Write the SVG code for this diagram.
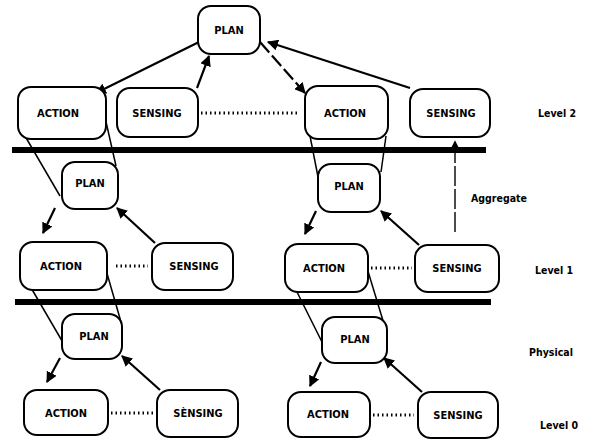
<svg xmlns="http://www.w3.org/2000/svg" width="594" height="440" viewBox="0 0 594 440">
<defs>
<marker id="ah" viewBox="0 0 10 10" refX="9" refY="5" markerWidth="5" markerHeight="5" orient="auto" markerUnits="strokeWidth">
<path d="M0,0 L10,5 L0,10 z" fill="#000"/>
</marker>
<marker id="ahs" viewBox="0 0 10 10" refX="9" refY="5" markerWidth="6" markerHeight="6" orient="auto" markerUnits="strokeWidth">
<path d="M0,0 L10,5 L0,10 z" fill="#000"/>
</marker>
</defs>
<style>
.box{fill:#fff;stroke:#000;stroke-width:2}
.t{font-family:"DejaVu Sans Condensed","DejaVu Sans",sans-serif;font-weight:bold;font-size:11px;text-anchor:middle;dominant-baseline:central;fill:#000}
.lbl{font-family:"DejaVu Sans Condensed","DejaVu Sans",sans-serif;font-weight:bold;font-size:10.5px;dominant-baseline:central;fill:#000}
.arr{stroke:#000;stroke-width:2.2;fill:none;marker-end:url(#ah)}
.ln{stroke:#000;stroke-width:1.5;fill:none}
.dot{stroke:#000;stroke-width:3;stroke-dasharray:1.5 3;fill:none}
.bar{stroke:#000;stroke-width:6}
</style>
<rect width="594" height="440" fill="#fff"/>

<g id="connectors">
<!-- funnel lines -->
<line class="ln" x1="25" y1="136" x2="60" y2="196"/>
<line class="ln" x1="102" y1="104" x2="116" y2="166"/>
<line class="ln" x1="310" y1="136" x2="319" y2="182"/>
<line class="ln" x1="386" y1="136" x2="381" y2="172"/>
<line class="ln" x1="30" y1="286" x2="65" y2="346"/>
<line class="ln" x1="102" y1="256" x2="121" y2="322"/>
<line class="ln" x1="294" y1="286" x2="324" y2="346"/>
<line class="ln" x1="364" y1="258" x2="384" y2="324"/>
<!-- bars -->
<line class="bar" x1="12" y1="150" x2="486" y2="150"/>
<line class="bar" x1="15" y1="302" x2="491" y2="302"/>
<!-- level 2 arrows -->
<line class="arr" x1="199" y1="42" x2="96" y2="93"/>
<line class="arr" x1="197" y1="88" x2="209" y2="56"/>
<line class="arr" x1="260" y1="42" x2="305" y2="93" stroke-dasharray="14 4"/>
<line class="arr" x1="410" y1="88" x2="268" y2="42"/>
<!-- dotted links -->
<line class="dot" x1="201" y1="113" x2="300" y2="113"/>
<line class="dot" x1="116" y1="266" x2="148" y2="266"/>
<line class="dot" x1="371" y1="268" x2="412" y2="268"/>
<line class="dot" x1="111" y1="413" x2="154" y2="413"/>
<line class="dot" x1="373" y1="415" x2="414" y2="415"/>
<!-- level 1 arrows -->
<line class="arr" x1="55" y1="208" x2="43" y2="233"/>
<line class="arr" x1="155" y1="243" x2="117" y2="208"/>
<line class="arr" x1="316" y1="211" x2="305" y2="234"/>
<line class="arr" x1="419" y1="245" x2="381" y2="211"/>
<!-- level 0 arrows -->
<line class="arr" x1="60" y1="358" x2="47" y2="382"/>
<line class="arr" x1="160" y1="390" x2="122" y2="356"/>
<line class="arr" x1="321" y1="362" x2="310" y2="386"/>
<line class="arr" x1="422" y1="392" x2="384" y2="358"/>
<!-- aggregate -->
<line x1="455" y1="232" x2="455" y2="141" stroke="#000" stroke-width="1.4" stroke-dasharray="20 3" marker-end="url(#ahs)"/>
</g>

<g id="plan-top"><rect class="box" x="198" y="6" width="62" height="48" rx="13"/><text class="t" x="229" y="30">PLAN</text></g>
<g id="action-2a"><rect class="box" x="18" y="87" width="88" height="52" rx="13"/><text class="t" x="58" y="113">ACTION</text></g>
<g id="sensing-2a"><rect class="box" x="117" y="88" width="81" height="49" rx="13"/><text class="t" x="157" y="113">SENSING</text></g>
<g id="action-2b"><rect class="box" x="305" y="86" width="83" height="53" rx="13"/><text class="t" x="345" y="113">ACTION</text></g>
<g id="sensing-2b"><rect class="box" x="410" y="89" width="80" height="48" rx="13"/><text class="t" x="451" y="113">SENSING</text></g>

<g id="plan-1a"><rect class="box" x="62" y="162" width="56" height="47" rx="13"/><text class="t" x="90" y="183">PLAN</text></g>
<g id="plan-1b"><rect class="box" x="318" y="164" width="62" height="48" rx="13"/><text class="t" x="349" y="186">PLAN</text></g>
<g id="action-1a"><rect class="box" x="20" y="242" width="87" height="48" rx="13"/><text class="t" x="61" y="266">ACTION</text></g>
<g id="sensing-1a"><rect class="box" x="152" y="243" width="81" height="47" rx="13"/><text class="t" x="194" y="266">SENSING</text></g>
<g id="action-1b"><rect class="box" x="285" y="244" width="83" height="48" rx="13"/><text class="t" x="324" y="268">ACTION</text></g>
<g id="sensing-1b"><rect class="box" x="415" y="245" width="84" height="47" rx="13"/><text class="t" x="457" y="268">SENSING</text></g>

<g id="plan-0a"><rect class="box" x="62" y="314" width="60" height="45" rx="13"/><text class="t" x="94" y="336">PLAN</text></g>
<g id="plan-0b"><rect class="box" x="322" y="317" width="65" height="46" rx="13"/><text class="t" x="355" y="339">PLAN</text></g>
<g id="action-0a"><rect class="box" x="24" y="390" width="84" height="45" rx="13"/><text class="t" x="66" y="413">ACTION</text></g>
<g id="sensing-0a"><rect class="box" x="157" y="390" width="81" height="47" rx="13"/><text class="t" x="198" y="413">SÈNSING</text></g>
<g id="action-0b"><rect class="box" x="288" y="392" width="82" height="45" rx="13"/><text class="t" x="328" y="414">ACTION</text></g>
<g id="sensing-0b"><rect class="box" x="418" y="392" width="80" height="46" rx="13"/><text class="t" x="458" y="415">SENSING</text></g>

<g id="labels">
<text class="lbl" x="538" y="113">Level 2</text>
<text class="lbl" x="471" y="198">Aggregate</text>
<text class="lbl" x="535" y="270">Level 1</text>
<text class="lbl" x="529" y="352">Physical</text>
<text class="lbl" x="540" y="425">Level 0</text>
</g>
</svg>
